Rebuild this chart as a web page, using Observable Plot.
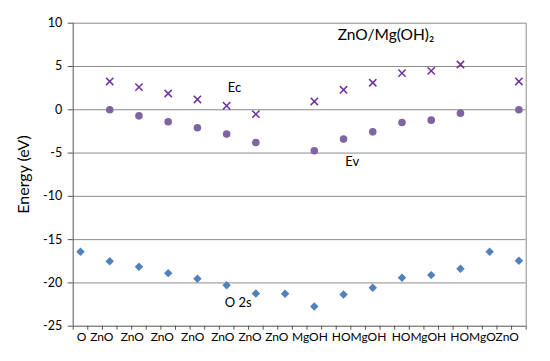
<!DOCTYPE html>
<html>
<head>
<meta charset="utf-8">
<script src="https://cdn.jsdelivr.net/npm/d3@7"></script>
<script src="https://cdn.jsdelivr.net/npm/@observablehq/plot@0.6"></script>
<style>
  html, body { margin: 0; padding: 0; background: #fff; }
  #chart { width: 550px; height: 361px; }
  svg { font-family: Lato, "Open Sans", sans-serif; }
</style>
</head>
<body>
<div id="chart"></div>
<script>
// Category slot of each layer (31 slots, data on every second slot)
const slots = [0, 2, 4, 6, 8, 10, 12, 14, 16, 18, 20, 22, 24, 26, 28, 30];
// Conduction band edge Ec (eV); null where absent
const ecValues = [null, 3.27, 2.61, 1.88, 1.19, 0.46, -0.51, null, 0.96, 2.31, 3.12, 4.23, 4.5, 5.23, null, 3.27];
// Valence band edge Ev (eV)
const evValues = [null, 0.0, -0.70, -1.39, -2.08, -2.81, -3.78, null, -4.74, -3.39, -2.55, -1.47, -1.2, -0.39, null, 0.0];
// O 2s level (eV)
const o2sValues = [-16.40, -17.49, -18.14, -18.87, -19.52, -20.26, -21.22, -21.25, -22.72, -21.34, -20.56, -19.41, -19.1, -18.37, -16.40, -17.44];

// x-axis category labels as printed and their slot positions
const tickLabels = ["O", "ZnO", "ZnO", "ZnO", "ZnO", "ZnO", "ZnO", "ZnO", "MgOH", "HOMgOH", "HOMgOH", "HOMgOZnO"];
const tickLabelSlots = [0.07, 1.46, 3.54, 5.6, 7.68, 9.74, 11.6, 13.43, 15.7, 19.06, 23.16, 27.65];
const slotBoundaries = d3.range(-0.5, 31, 1);
const yTicks = [10, 5, 0, -5, -10, -15, -20, -25];

// in-plot annotations
const noteText = ["Ec", "Ev", "O 2s"];
const noteSlot = [10.54, 18.6, 10.79];
const noteEnergy = [2.54, -6.05, -22.3];

const ec = slots.map((s, i) => ({x: s, y: ecValues[i]})).filter(d => d.y != null);
const ev = slots.map((s, i) => ({x: s, y: evValues[i]})).filter(d => d.y != null);
const o2s = slots.map((s, i) => ({x: s, y: o2sValues[i]}));
const labels = tickLabels.map((t, i) => ({t, x: tickLabelSlots[i]}));
const notes = noteText.map((t, i) => ({t, x: noteSlot[i], y: noteEnergy[i]}));

const chart = Plot.plot({
  width: 550,
  height: 361,
  marginLeft: 72.7,
  marginRight: 24.3,
  marginTop: 22.7,
  marginBottom: 35.3,
  style: {fontFamily: "Lato, 'Open Sans', sans-serif", background: "#fff"},
  x: {domain: [-0.5, 30.5]},
  y: {domain: [-25, 10]},
  marks: [
    Plot.ruleY(yTicks.filter(v => v > -25), {stroke: "#8c8c8c", strokeWidth: 1}),
    Plot.ruleX([30.5], {stroke: "#8c8c8c", strokeWidth: 1}),
    Plot.axisY({ticks: yTicks, tickFormat: d => String(d), tickSize: 5, tickPadding: 6, fontSize: 12.5, fill: "#000", label: null, stroke: "#555"}),
    Plot.axisX({ticks: slotBoundaries, tickFormat: () => "", tickSize: 4, label: null, stroke: "#555"}),
    Plot.ruleX([-0.5], {stroke: "#555", strokeWidth: 1}),
    Plot.ruleY([-25], {stroke: "#555", strokeWidth: 1}),
    Plot.text(labels, {x: "x", text: "t", frameAnchor: "bottom", dy: 15, fontSize: 12, fill: "#000"}),
    Plot.dot(o2s, {x: "x", y: "y", symbol: "diamond2", r: 3.8, fill: "#4F81BD", stroke: null}),
    Plot.dot(ev, {x: "x", y: "y", symbol: "circle", r: 3.8, fill: "#8064A2", stroke: null}),
    Plot.dot(ec, {x: "x", y: "y", symbol: "times", r: 3.4, stroke: "#7030A0", strokeWidth: 1.5}),
    Plot.text(notes, {x: "x", y: "y", text: "t", fontSize: 13, fill: "#000"}),
    Plot.text([{t: "Energy (eV)", x: -0.5, y: -7.47}], {x: "x", y: "y", text: "t", dx: -49, rotate: -90, fontSize: 16, fill: "#000"}),
    Plot.text([{t: "ZnO/Mg(OH)\u2082", x: 20.9, y: 8.58}], {x: "x", y: "y", text: "t", fontSize: 15.5, fill: "#000"})
  ]
});
document.getElementById("chart").appendChild(chart);
</script>
</body>
</html>
